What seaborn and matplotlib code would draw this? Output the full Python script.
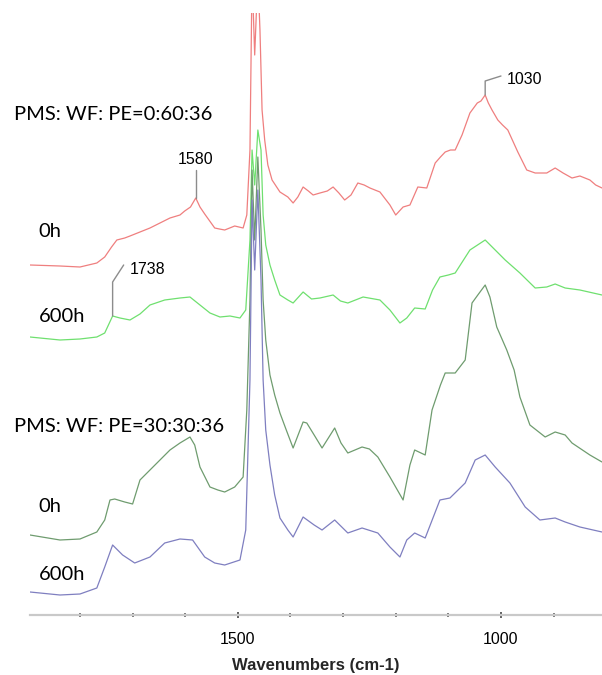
import numpy as np
import pandas as pd
import matplotlib
matplotlib.use("Agg")
import matplotlib.pyplot as plt
import seaborn as sns
from matplotlib.ticker import FixedLocator, MultipleLocator

# --- FTIR spectra (wavenumber, cm-1) and stacked absorbance (a.u.) ---
# PMS:WF:PE = 0:60:36, 0 h
wn_a0 = [1895, 1838, 1800, 1768, 1753, 1740, 1730, 1715, 1705, 1686, 1667, 1648,
         1629, 1610, 1601, 1590, 1580, 1572, 1563, 1544, 1535,
         1525, 1506, 1490, 1483, 1477, 1473, 1468, 1462, 1458, 1454, 1449, 1443,
         1435, 1420, 1405, 1395, 1386, 1376, 1366, 1357, 1344, 1330, 1319, 1308, 1297,
         1285, 1272, 1260, 1249, 1230, 1211,
         1200, 1186, 1173, 1158, 1141, 1125, 1115, 1106, 1096, 1087, 1074, 1059, 1045,
         1038, 1030, 1024, 1017, 1006, 997, 987, 968, 951, 935, 913, 897, 882, 865, 850,
         831, 820, 808]
ab_a0 = [3.50, 3.49, 3.48, 3.52, 3.58, 3.68, 3.75, 3.77, 3.79, 3.83, 3.87, 3.92,
         3.97, 4.00, 4.04, 4.08, 4.17, 4.08, 4.01, 3.87, 3.86,
         3.85, 3.89, 3.87, 4.00, 4.65, 6.40, 5.60, 6.40, 5.85, 5.05, 4.75, 4.50,
         4.35, 4.23, 4.18, 4.12, 4.18, 4.28, 4.24, 4.20, 4.22, 4.24, 4.28, 4.22, 4.15,
         4.20, 4.32, 4.30, 4.27, 4.23, 4.10,
         4.00, 4.08, 4.10, 4.28, 4.27, 4.52, 4.58, 4.63, 4.65, 4.65, 4.80, 5.02, 5.12,
         5.14, 5.20, 5.12, 5.05, 4.95, 4.90, 4.85, 4.63, 4.45, 4.42, 4.42, 4.47, 4.42,
         4.37, 4.39, 4.35, 4.30, 4.27]

# PMS:WF:PE = 0:60:36, 600 h
wn_a600 = [1895, 1838, 1800, 1768, 1753, 1738, 1724, 1705, 1686, 1667, 1639, 1610,
           1591, 1572, 1553, 1534, 1515, 1496, 1485, 1477, 1473, 1468, 1462, 1456,
           1452, 1447, 1439, 1430, 1420, 1405, 1395, 1376, 1360, 1344, 1319, 1305,
           1291, 1262, 1230, 1211, 1192, 1179, 1164, 1144, 1130, 1116, 1100, 1087,
           1059, 1030, 1011, 992, 964, 935, 913, 897, 878, 850, 808]
ab_a600 = [2.78, 2.75, 2.76, 2.78, 2.82, 2.99, 2.97, 2.95, 3.01, 3.10, 3.15, 3.17,
           3.18, 3.10, 3.02, 2.98, 2.99, 2.97, 3.05, 3.75, 4.65, 4.30, 4.85, 4.65,
           4.00, 3.70, 3.50, 3.35, 3.20, 3.15, 3.12, 3.23, 3.16, 3.17, 3.20, 3.14,
           3.12, 3.18, 3.15, 3.05, 2.92, 2.97, 3.07, 3.06, 3.25, 3.38, 3.40, 3.42,
           3.65, 3.75, 3.65, 3.55, 3.42, 3.27, 3.28, 3.31, 3.27, 3.25, 3.20]

# PMS:WF:PE = 30:30:36, 0 h
wn_b0 = [1895, 1838, 1800, 1768, 1753, 1743, 1734, 1715, 1700, 1686, 1667, 1648,
         1629, 1610, 1591, 1582, 1572, 1553, 1538, 1525, 1506, 1490, 1483, 1477,
         1473, 1468, 1462, 1456, 1452, 1447, 1439, 1430, 1420, 1408, 1395, 1376,
         1369, 1355, 1340, 1316, 1304, 1291, 1264, 1250, 1234, 1211, 1186, 1173,
         1164, 1144, 1131, 1115, 1106, 1087, 1068, 1055, 1044, 1030, 1021, 1008,
         989, 975, 964, 945, 916, 897, 878, 865, 831, 808]
ab_b0 = [0.80, 0.75, 0.76, 0.83, 0.95, 1.15, 1.16, 1.13, 1.11, 1.35, 1.45, 1.55,
         1.65, 1.72, 1.78, 1.70, 1.48, 1.28, 1.25, 1.23, 1.28, 1.38, 2.05, 3.15,
         4.45, 3.75, 4.58, 3.85, 3.15, 2.75, 2.40, 2.20, 2.02, 1.85, 1.67, 1.93,
         1.92, 1.80, 1.67, 1.87, 1.72, 1.62, 1.68, 1.66, 1.58, 1.38, 1.15, 1.50,
         1.65, 1.60, 2.05, 2.30, 2.42, 2.42, 2.55, 3.12, 3.20, 3.30, 3.18, 2.88,
         2.65, 2.45, 2.18, 1.90, 1.78, 1.83, 1.80, 1.72, 1.60, 1.53]

# PMS:WF:PE = 30:30:36, 600 h
wn_b600 = [1895, 1838, 1800, 1768, 1753, 1738, 1719, 1696, 1667, 1639, 1610, 1586,
           1563, 1544, 1525, 1496, 1485, 1477, 1473, 1468, 1462, 1456, 1452, 1447,
           1439, 1430, 1420, 1405, 1395, 1376, 1355, 1340, 1316, 1291, 1264, 1234,
           1211, 1192, 1179, 1164, 1144, 1116, 1097, 1068, 1049, 1030, 1011, 983,
           954, 926, 897, 878, 850, 808]
ab_b600 = [0.23, 0.20, 0.21, 0.27, 0.48, 0.70, 0.60, 0.52, 0.58, 0.72, 0.76, 0.75,
           0.58, 0.52, 0.50, 0.55, 0.85, 2.35, 4.15, 3.45, 4.25, 3.35, 2.35, 1.85,
           1.50, 1.20, 0.97, 0.85, 0.78, 0.98, 0.90, 0.85, 0.95, 0.82, 0.87, 0.82,
           0.68, 0.58, 0.75, 0.82, 0.77, 1.15, 1.17, 1.32, 1.55, 1.60, 1.48, 1.32,
           1.08, 0.95, 0.97, 0.93, 0.88, 0.83]

series_names = ["A 0h", "A 600h", "B 0h", "B 600h"]
series_colors = ["#ef7f7f", "#6fe06f", "#6f9c6f", "#7f7fc0"]

frames = []
for name, wn, ab in zip(series_names,
                        [wn_a0, wn_a600, wn_b0, wn_b600],
                        [ab_a0, ab_a600, ab_b0, ab_b600]):
    frames.append(pd.DataFrame({"wavenumber": wn, "absorbance": ab, "sample": name}))
df = pd.concat(frames, ignore_index=True)

sns.set_theme(style="white")
plt.rcParams["font.family"] = ["Liberation Sans", "DejaVu Sans"]

fig = plt.figure(figsize=(6.02, 6.75), dpi=100)
ax = fig.add_axes([30 / 602, 60 / 675, 572 / 602, 602 / 675])

sns.lineplot(data=df, x="wavenumber", y="absorbance", hue="sample",
             hue_order=series_names, palette=series_colors, sort=False,
             estimator=None, linewidth=0.9, legend=False, ax=ax)

ax.set_xlim(1895, 808)
ax.set_ylim(0, 6.02)
ax.set_ylabel("")
ax.set_yticks([])

for s in ["top", "right", "left"]:
    ax.spines[s].set_visible(False)
ax.spines["bottom"].set_color("#c9c9c9")
ax.spines["bottom"].set_linewidth(1.6)

ax.xaxis.set_major_locator(FixedLocator([1500, 1000]))
ax.xaxis.set_minor_locator(MultipleLocator(100))
ax.tick_params(axis="x", which="both", bottom=True, direction="inout",
               colors="#555555", labelcolor="black", labelsize=11.5, pad=10)
ax.tick_params(axis="x", which="major", length=4, width=1.3)
ax.tick_params(axis="x", which="minor", length=3, width=1.1)
ax.set_xlabel("Wavenumbers (cm-1)", fontsize=12, fontweight="bold", labelpad=8)

# Peak annotations with leader lines
lookup = {n: dict(zip(w, a)) for n, w, a in zip(series_names,
                                                  [wn_a0, wn_a600, wn_b0, wn_b600],
                                                  [ab_a0, ab_a600, ab_b0, ab_b600])}
num_font = dict(family=["Liberation Sans Narrow", "Liberation Sans"], fontsize=11.5,
                color="black")
lead = dict(color="#8c8c8c", linewidth=1.0)

# 1580: straight vertical leader, label centred above
w, s = 1580, "A 0h"
a = lookup[s][w]
ax.plot([w, w], [a, a + 0.28], **lead)
ax.text(w, a + 0.39, f"{w}", ha="center", va="center", **num_font)

# 1738: vertical then slanted leader, label to the right
w, s = 1738, "A 600h"
a = lookup[s][w]
ax.plot([w, w, w - 21], [a, a + 0.34, a + 0.51], **lead)
ax.text(w - 33, a + 0.47, f"{w}", ha="left", va="center", **num_font)

# 1030: vertical then slanted leader, label to the right
w, s = 1030, "A 0h"
a = lookup[s][w]
ax.plot([w, w, w - 30], [a, a + 0.14, a + 0.19], **lead)
ax.text(w - 41, a + 0.15, f"{w}", ha="left", va="center", **num_font)

# Sample labels
lab_font = dict(family=["Lato", "DejaVu Sans"], fontsize=14.5, color="black",
                va="center", ha="left")
fig.text(14 / 602, 1 - 114 / 675, "PMS: WF: PE=0:60:36", **lab_font)
fig.text(38 / 602, 1 - 232 / 675, "0h", **lab_font)
fig.text(39 / 602, 1 - 317 / 675, "600h", **lab_font)
fig.text(14 / 602, 1 - 427 / 675, "PMS: WF: PE=30:30:36", **lab_font)
fig.text(38 / 602, 1 - 506 / 675, "0h", **lab_font)
fig.text(39 / 602, 1 - 574 / 675, "600h", **lab_font)

fig.savefig("out.png", dpi=100, facecolor="white")
